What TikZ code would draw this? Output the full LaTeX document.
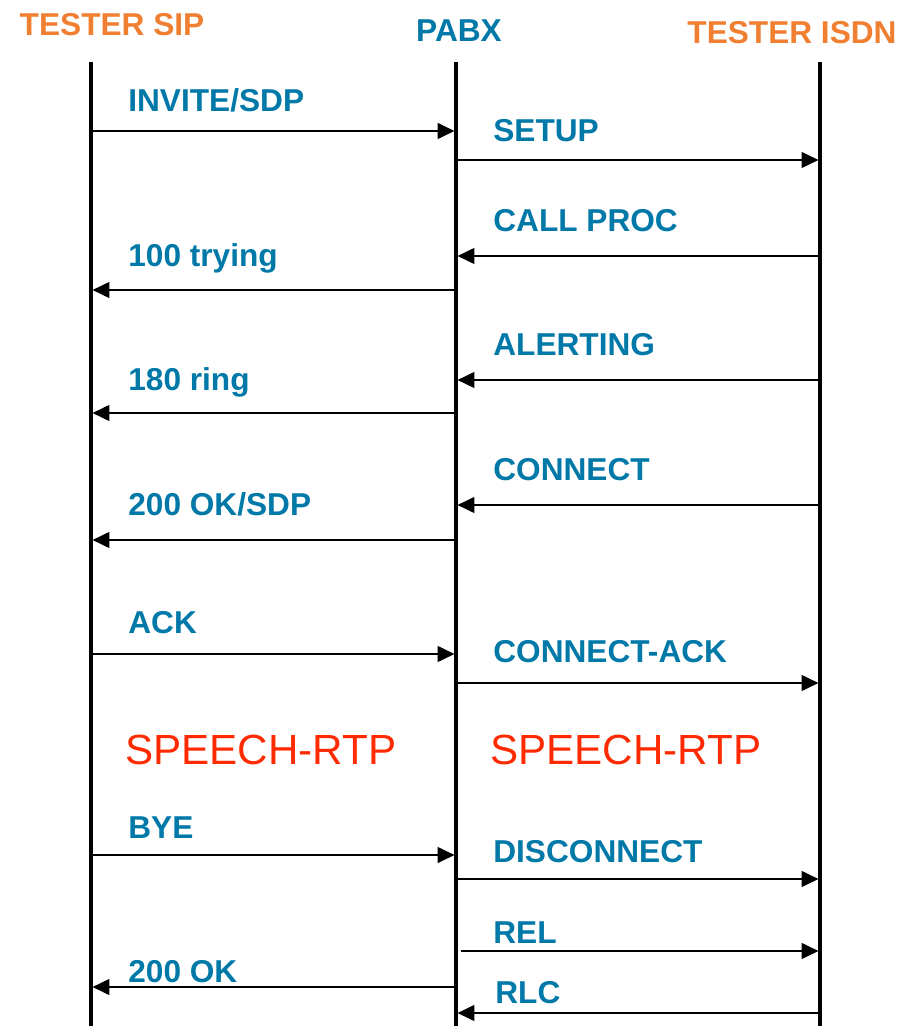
\documentclass[tikz,border=0pt]{standalone}
\usepackage{fontspec}
\setmainfont{Liberation Sans}
\usetikzlibrary{arrows.meta}
\definecolor{MSG}{HTML}{0078A8}
\definecolor{PEER}{HTML}{F07F32}
\definecolor{RTP}{HTML}{FF2A00}
\tikzset{
  life/.style={line width=1.9pt},
  msg/.style={line width=0.85pt, -{Triangle[length=9.5pt,width=9pt]}, shorten >=0.9pt},
  lbl/.style={anchor=base west, inner sep=0pt, text=MSG, font=\bfseries\fontsize{18}{20}\selectfont},
  head/.style={anchor=base, inner sep=0pt, font=\bfseries\fontsize{18}{20}\selectfont},
  rtp/.style={anchor=base west, inner sep=0pt, text=RTP, font=\fontsize{24}{26}\selectfont},
}

\begin{document}
\begin{tikzpicture}[x=0.02cm, y=-0.02cm]%
\useasboundingbox (0,0) rectangle (901,1026);%
% lifelines
\coordinate (sipT) at (91,62);  \coordinate (sipB) at (91,1026);%
\coordinate (pabxT) at (456,62); \coordinate (pabxB) at (456,1026);%
\coordinate (isdnT) at (820,62); \coordinate (isdnB) at (820,1026);%
\draw[life] (sipT) -- (sipB);%
\draw[life] (pabxT) -- (pabxB);%
\draw[life] (isdnT) -- (isdnB);%
\node[head, text=PEER] (hsip) at (112,35.5) {TESTER SIP};%
\node[head, text=MSG] (hpabx) at (459,41.5) {PABX};%
\node[head, text=PEER] (hisdn) at (792,43.5) {TESTER ISDN};%
% one row of points per message
\foreach \n/\y in {invite/131, setup/160, proc/256, trying/290, alert/380, ring/413,
                   conn/505, ok/540, ack/654, cack/683, bye/855, disc/879,
                   rel/951, okb/987, rlc/1013} {
  \coordinate (\n S) at (91,\y);
  \coordinate (\n P) at (456,\y);
  \coordinate (\n I) at (820,\y);
}%
\coordinate (relP') at (461,951);%
% messages
\draw[msg] (inviteS) -- (inviteP);%
\draw[msg] (setupP) -- (setupI);%
\draw[msg] (procI) -- (procP);%
\draw[msg] (tryingP) -- (tryingS);%
\draw[msg] (alertI) -- (alertP);%
\draw[msg] (ringP) -- (ringS);%
\draw[msg] (connI) -- (connP);%
\draw[msg] (okP) -- (okS);%
\draw[msg] (ackS) -- (ackP);%
\draw[msg] (cackP) -- (cackI);%
\draw[msg] (byeS) -- (byeP);%
\draw[msg] (discP) -- (discI);%
\draw[msg] (relP') -- (relI);%
\draw[msg] (okbP) -- (okbS);%
\draw[msg] (rlcI) -- (rlcP);%
% labels
\node[lbl] (linvite) at (128,112) {INVITE/SDP};%
\node[lbl] (lsetup) at (493,142) {SETUP};%
\node[lbl] (lproc) at (493,232) {CALL PROC};%
\node[lbl] (ltrying) at (128,267) {100 trying};%
\node[lbl] (lalert) at (493,356) {ALERTING};%
\node[lbl] (lring) at (128,391) {180 ring};%
\node[lbl] (lconn) at (493,480) {CONNECT};%
\node[lbl] (lok) at (128,515) {200 OK/SDP};%
\node[lbl] (lack) at (128,633) {ACK};%
\node[lbl] (lcack) at (493,662) {CONNECT-ACK};%
\node[rtp] (rtpA) at (125,764) {SPEECH-RTP};%
\node[rtp] (rtpB) at (490,764) {SPEECH-RTP};%
\node[lbl] (lbye) at (128,838) {BYE};%
\node[lbl] (ldisc) at (493,862) {DISCONNECT};%
\node[lbl] (lrel) at (493,943) {REL};%
\node[lbl] (lokb) at (128,982) {200 OK};%
\node[lbl] (lrlc) at (495,1003) {RLC};%
\end{tikzpicture}
\end{document}
